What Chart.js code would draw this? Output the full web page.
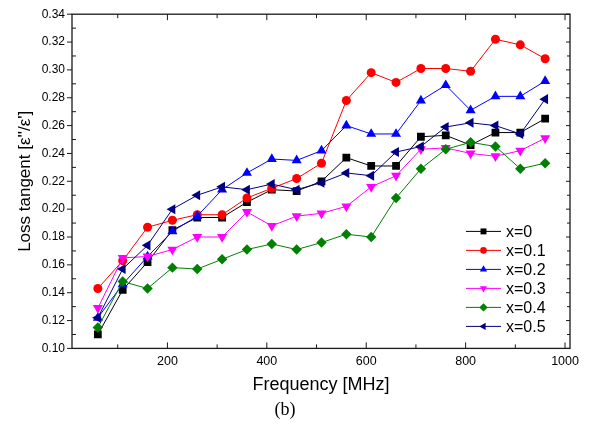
<!DOCTYPE html>
<html>
<head>
<meta charset="utf-8">
<script src="https://cdn.jsdelivr.net/npm/chart.js@4.4.1/dist/chart.umd.min.js"></script>
<style>
	body { margin: 0; background: #fff; }
	canvas { display: block; }
</style>
</head>
<body>
<canvas id="chart" width="591" height="433"></canvas>
<script>
// frequency in MHz
const freq = [60, 110, 160, 210, 260, 310, 360, 410, 460, 510, 560, 610, 660, 710, 760, 810, 860, 910, 960];

const x00 = [0.110, 0.142, 0.162, 0.185, 0.194, 0.194, 0.205, 0.214, 0.213, 0.220, 0.237, 0.231, 0.231, 0.252, 0.253, 0.246, 0.255, 0.255, 0.265];
const x01 = [0.143, 0.163, 0.187, 0.192, 0.196, 0.196, 0.208, 0.215, 0.222, 0.233, 0.278, 0.298, 0.291, 0.301, 0.301, 0.299, 0.322, 0.318, 0.308];
const x02 = [0.122, 0.146, 0.166, 0.184, 0.195, 0.214, 0.226, 0.236, 0.235, 0.242, 0.260, 0.254, 0.254, 0.278, 0.289, 0.271, 0.281, 0.281, 0.292];
const x03 = [0.129, 0.165, 0.166, 0.171, 0.180, 0.180, 0.198, 0.188, 0.195, 0.197, 0.202, 0.216, 0.224, 0.243, 0.244, 0.240, 0.238, 0.242, 0.251];
const x04 = [0.115, 0.148, 0.143, 0.158, 0.157, 0.164, 0.171, 0.175, 0.171, 0.176, 0.182, 0.180, 0.208, 0.229, 0.243, 0.248, 0.245, 0.229, 0.233];
const x05 = [0.122, 0.157, 0.174, 0.200, 0.210, 0.216, 0.214, 0.218, 0.214, 0.219, 0.226, 0.224, 0.241, 0.245, 0.259, 0.262, 0.260, 0.254, 0.279];

const seriesNames = ['x=0', 'x=0.1', 'x=0.2', 'x=0.3', 'x=0.4', 'x=0.5'];
const seriesValues = [x00, x01, x02, x03, x04, x05];

const xMajorTicks = [200, 400, 600, 800, 1000];
const xMinorTicks = [100, 300, 500, 700, 900];
const yMajorTicks = [0.10, 0.12, 0.14, 0.16, 0.18, 0.20, 0.22, 0.24, 0.26, 0.28, 0.30, 0.32, 0.34];
const yMinorTicks = [0.11, 0.13, 0.15, 0.17, 0.19, 0.21, 0.23, 0.25, 0.27, 0.29, 0.31, 0.33];

const colors = ['#000000', '#ff0000', '#0000ff', '#ff00ff', '#008000', '#000080'];
const markers = ['rect', 'circle', 'triangle', 'triangle', 'rectRot', 'triangle'];
const rotations = [0, 0, 0, 180, 0, -90];
const radii = [5.5, 4.5, 5.8, 5.8, 5.2, 5.8];

Chart.defaults.font.family = "'Liberation Sans', Arial, sans-serif";
Chart.defaults.color = '#000';

// box with Origin-like ticks
const framePlugin = {
	id: 'frame',
	afterDatasetsDraw(chart) {
		const ctx = chart.ctx;
		const a = chart.chartArea;
		const xs = chart.scales.x, ys = chart.scales.y;
		ctx.save();
		ctx.strokeStyle = '#1a1a1a';
		ctx.lineWidth = 1.3;
		ctx.strokeRect(a.left, a.top, a.right - a.left, a.bottom - a.top);
		ctx.lineWidth = 1;
		ctx.beginPath();
		xMajorTicks.forEach(function (v) {
			const px = xs.getPixelForValue(v);
			ctx.moveTo(px, a.bottom); ctx.lineTo(px, a.bottom - 6);
			ctx.moveTo(px, a.top); ctx.lineTo(px, a.top + 6);
		});
		xMinorTicks.forEach(function (v) {
			const px = xs.getPixelForValue(v);
			ctx.moveTo(px, a.bottom); ctx.lineTo(px, a.bottom - 4);
			ctx.moveTo(px, a.top); ctx.lineTo(px, a.top + 4);
		});
		yMajorTicks.forEach(function (v) {
			const py = ys.getPixelForValue(v);
			ctx.moveTo(a.left, py); ctx.lineTo(a.left - 5, py);
			ctx.moveTo(a.right, py); ctx.lineTo(a.right - 4, py);
		});
		yMinorTicks.forEach(function (v) {
			const py = ys.getPixelForValue(v);
			ctx.moveTo(a.left, py); ctx.lineTo(a.left + 4, py);
			ctx.moveTo(a.right, py); ctx.lineTo(a.right - 3, py);
		});
		ctx.stroke();
		ctx.restore();
	}
};

// legend inside the plot, bottom right
const legendPlugin = {
	id: 'innerLegend',
	afterDraw(chart) {
		const ctx = chart.ctx;
		const a = chart.chartArea;
		const x0 = a.right - 104;
		const y0 = a.bottom - 117;
		ctx.save();
		chart.data.datasets.forEach(function (ds, i) {
			const y = y0 + i * 19;
			ctx.strokeStyle = ds.borderColor;
			ctx.lineWidth = 1;
			ctx.beginPath();
			ctx.moveTo(x0, y);
			ctx.lineTo(x0 + 35, y);
			ctx.stroke();
			ctx.fillStyle = ds.backgroundColor;
			Chart.helpers.drawPoint(ctx, {
				pointStyle: ds.pointStyle,
				rotation: ds.pointRotation,
				radius: ds.pointStyle === 'circle' ? 3.3 : 4.2,
				borderWidth: 0
			}, x0 + 17.5, y);
			ctx.fillStyle = '#000';
			ctx.font = "16px 'Liberation Sans', Arial, sans-serif";
			ctx.textBaseline = 'middle';
			ctx.textAlign = 'left';
			ctx.fillText(ds.label, x0 + 40, y + 1);
		});
		ctx.restore();
	}
};

const datasets = seriesValues.map(function (vals, i) {
	return {
		label: seriesNames[i],
		data: vals.map(function (v, k) { return { x: freq[k], y: v }; }),
		borderColor: colors[i],
		backgroundColor: colors[i],
		borderWidth: 1,
		pointStyle: markers[i],
		pointRotation: rotations[i],
		pointRadius: radii[i],
		pointBorderWidth: 0,
		pointBackgroundColor: colors[i],
		tension: 0,
		fill: false,
		order: 5 - i
	};
});

new Chart(document.getElementById('chart'), {
	type: 'line',
	data: { datasets: datasets },
	options: {
		responsive: false,
		animation: false,
		devicePixelRatio: 1,
		layout: { padding: { left: 0, right: 21, top: 14, bottom: 0 } },
		plugins: {
			legend: { display: false },
			tooltip: { enabled: false },
			title: {
				display: true,
				position: 'bottom',
				text: '(b)',
				color: '#000',
				font: { family: "'Liberation Serif', 'Times New Roman', serif", size: 18, weight: 'normal' },
				padding: { top: 0, bottom: 12 }
			}
		},
		scales: {
			x: {
				type: 'linear',
				min: 8,
				max: 1010,
				afterBuildTicks: function (s) { s.ticks = xMajorTicks.map(function (v) { return { value: v }; }); },
				afterFit: function (s) { s.height = 51; },
				grid: { display: false, drawTicks: false },
				border: { display: false },
				ticks: {
					autoSkip: false,
					maxRotation: 0,
					padding: 6,
					font: { size: 12.5 },
					callback: function (v) { return String(v); }
				},
				title: {
					display: true,
					text: 'Frequency [MHz]',
					font: { size: 18 },
					padding: { top: 0, bottom: 4 }
				}
			},
			y: {
				min: 0.10,
				max: 0.34,
				afterBuildTicks: function (s) { s.ticks = yMajorTicks.map(function (v) { return { value: v }; }); },
				afterFit: function (s) { s.width = 72; },
				grid: { display: false, drawTicks: false },
				border: { display: false },
				ticks: {
					autoSkip: false,
					padding: 7,
					font: { size: 12 },
					callback: function (v) { return v.toFixed(2); }
				},
				title: {
					display: true,
					text: "Loss tangent [ε''/ε']",
					font: { size: 17 },
					padding: { top: 15, bottom: 0 }
				}
			}
		}
	},
	plugins: [framePlugin, legendPlugin]
});
</script>
</body>
</html>
